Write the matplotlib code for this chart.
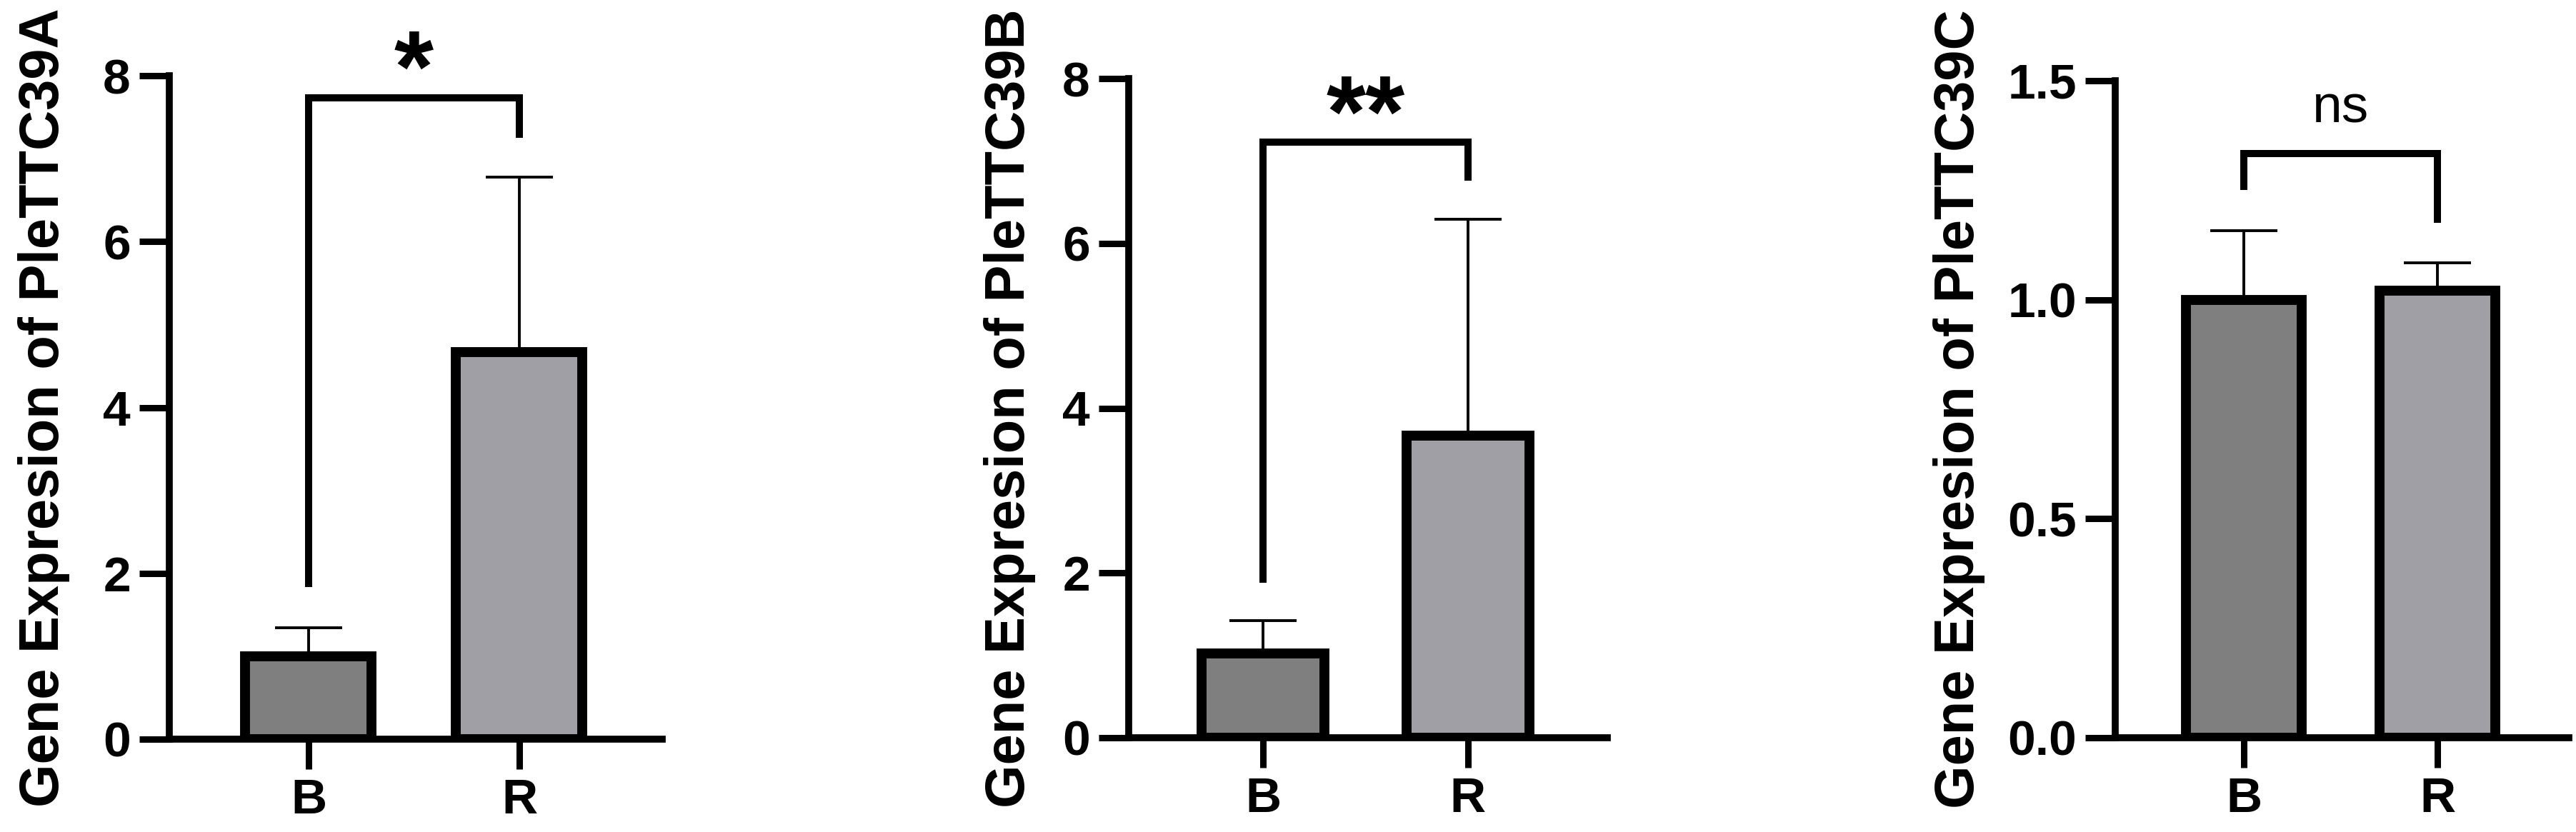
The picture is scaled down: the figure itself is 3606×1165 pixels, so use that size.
import matplotlib
matplotlib.use('Agg')
import matplotlib.pyplot as plt
from matplotlib.ticker import FormatStrFormatter

plt.rcParams['font.family'] = ['Liberation Sans', 'DejaVu Sans']

# ---------------- data ----------------
groups = ['B', 'R']
genes = ['PleTTC39A', 'PleTTC39B', 'PleTTC39C']

means_A = [1.0, 4.67]
sd_A = [0.34, 2.11]
means_B = [1.02, 3.67]
sd_B = [0.40, 2.62]
means_C = [1.0, 1.02]
sd_C = [0.157, 0.065]

# significance brackets: (top of bracket, left leg end, right leg end)
bracket_A = [7.73, 1.83, 7.25]
bracket_B = [7.23, 1.88, 6.76]
bracket_C = [1.334, 1.251, 1.176]
sig_labels = ['*', '**', 'ns']
sig_label_y = [7.69, 7.18, 1.405]

yticks_A = [0, 2, 4, 6, 8]
yticks_B = [0, 2, 4, 6, 8]
yticks_C = [0.0, 0.5, 1.0, 1.5]
ylims = [(0, 8), (0, 8), (0, 1.5)]

bar_colors = ['#7f7f7f', '#a09fa5']

# ---------------- layout ----------------
W, H = 3606, 1165
fig = plt.figure(figsize=(W / 100, H / 100), dpi=100)

def px_axes(left, right, top, bottom):
    return [left / W, 1 - bottom / H, (right - left) / W, (bottom - top) / H]

axes_px = [(237, 927, 106, 1035), (1580, 2250, 110, 1033), (2961, 3596, 113, 1033)]
xlims = [(-0.661, 1.678), (-0.655, 1.68), (-0.664, 1.679)]
label_x = [-0.2014, -0.194, -0.2866]

all_means = [means_A, means_B, means_C]
all_sd = [sd_A, sd_B, sd_C]
all_brackets = [bracket_A, bracket_B, bracket_C]
all_yticks = [yticks_A, yticks_B, yticks_C]

for i in range(3):
    ax = fig.add_axes(px_axes(*axes_px[i]))
    x = list(range(len(groups)))
    means = all_means[i]
    sd = all_sd[i]
    ax.bar(x, means, width=0.6, color=bar_colors, edgecolor='black',
           linewidth=10, zorder=3)
    ax.errorbar(x, means, yerr=[[0, 0], sd], fmt='none', ecolor='black',
                elinewidth=2.8, capsize=34, capthick=2.8, zorder=2)

    top, lend, rend = all_brackets[i]
    ax.plot([0, 0, 1, 1], [lend, top, top, rend], color='black', lw=7.2,
            solid_joinstyle='miter', solid_capstyle='butt', clip_on=False, zorder=4)
    if sig_labels[i] == 'ns':
        ax.text(0.5, sig_label_y[i], 'ns', ha='center', va='baseline',
                fontsize=54, clip_on=False)
    else:
        ax.text(0.5, sig_label_y[i], sig_labels[i], ha='center', va='baseline',
                fontsize=102, fontweight='bold', clip_on=False)

    ax.set_xlim(*xlims[i])
    ax.set_ylim(*ylims[i])
    ax.set_xticks(x)
    ax.set_xticklabels(groups, fontsize=50, fontweight='bold')
    ax.set_yticks(all_yticks[i])
    if i == 2:
        ax.yaxis.set_major_formatter(FormatStrFormatter('%.1f'))
    for lab in ax.get_yticklabels():
        lab.set_fontsize(50)
        lab.set_fontweight('bold')

    for s in ['top', 'right']:
        ax.spines[s].set_visible(False)
    for s in ['left', 'bottom']:
        ax.spines[s].set_linewidth(7)
        ax.spines[s].set_capstyle('projecting')
    ax.tick_params(axis='both', length=30, width=6.5, direction='out', pad=9)
    ax.set_ylabel('Gene Expresion of ' + genes[i], fontsize=56, fontweight='bold')
    ax.yaxis.set_label_coords(label_x[i], 0.5)

fig.savefig('out.png', dpi=100, facecolor='white')
